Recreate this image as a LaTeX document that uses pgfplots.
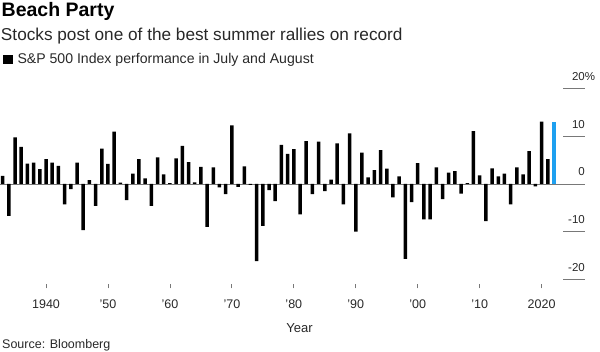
\documentclass[border=0pt]{standalone}
\usepackage{fontspec}
\setmainfont{Liberation Sans}
\usepackage{pgfplots}
\pgfplotsset{compat=1.18}
\definecolor{barblue}{RGB}{30,160,240}
\definecolor{txt}{RGB}{40,40,40}
\definecolor{gridc}{RGB}{120,120,120}
\begin{document}
\begin{tikzpicture}[x=1pt,y=1pt]
\useasboundingbox (0,0) rectangle (600,352);
\begin{axis}[
  at={(0pt,72.7pt)}, anchor=south west,
  scale only axis, width=585pt, height=190.6pt,
  xmin=1932.57, xmax=2027.0, ymin=-20, ymax=20,
  axis line style={draw=none},
  xtick={1940,1950,...,2020},
  xticklabels={1940,'50,'60,'70,'80,'90,'00,'10,2020},
  xtick pos=bottom,
  ytick={-20,-10,0,10,20},
  yticklabels={-20,-10,0,10,20\rlap{\%}},
  ytick pos=right,
  tick align=inside,
  major tick length=4pt,
  xtick style={draw=gridc, line width=0.8pt, yshift=-9.2pt},
  ytick style={draw=none},
  xticklabel style={anchor=base, inner sep=0pt, yshift=-29.7pt, font=\fontsize{12.5}{14}\selectfont, text=txt},
  yticklabel style={anchor=base east, inner sep=0pt, yshift=8pt, font=\fontsize{11.5}{13}\selectfont, text=txt},
  clip=false,
]
\addplot[gridc, line width=0.8pt] coordinates {(1932.57,0) (2027.0,0)};
\pgfplotsinvokeforeach{-20,-10,10,20}{\draw[gridc, line width=0.8pt] (axis cs:2023.45,#1) -- (axis cs:2027.0,#1);}
\addplot[ybar, bar shift=0pt, bar width=3.5pt, fill=black, draw=none] coordinates {
(1933,1.7) (1934,-6.7) (1935,9.8) (1936,7.8) (1937,4.3) (1938,4.5) (1939,3.1)
(1940,5.2) (1941,4.5) (1942,3.8) (1943,-4.3) (1944,-1.1) (1945,4.5) (1946,-9.7)
(1947,0.8) (1948,-4.6) (1949,7.4) (1950,4.2) (1951,11.0) (1952,0.3) (1953,-3.4)
(1954,2.2) (1955,5.2) (1956,1.2) (1957,-4.6) (1958,5.6) (1959,2.0) (1960,0.2)
(1961,5.4) (1962,8.0) (1963,4.6) (1964,0.35) (1965,3.6) (1966,-9.0) (1967,3.5)
(1968,-0.7) (1969,-2.1) (1970,12.3) (1971,-0.6) (1972,3.7) (1973,-0.2) (1974,-16.2)
(1975,-8.8) (1976,-1.3) (1977,-3.6) (1978,8.2) (1979,6.3) (1980,7.3) (1981,-6.4)
(1982,9.0) (1983,-2.1) (1984,8.9) (1985,-1.5) (1986,0.9) (1987,8.5) (1988,-4.3)
(1989,10.6) (1990,-10.0) (1991,6.6) (1992,1.4) (1993,2.9) (1994,7.1) (1995,3.2)
(1996,-2.8) (1997,1.6) (1998,-15.7) (1999,-3.8) (2000,4.4) (2001,-7.4) (2002,-7.4)
(2003,3.5) (2004,-3.2) (2005,2.4) (2006,2.7) (2007,-2.0) (2008,0.2) (2009,11.1)
(2010,1.8) (2011,-7.8) (2012,3.3) (2013,1.6) (2014,2.2) (2015,-4.3) (2016,3.5)
(2017,2.0) (2018,6.9) (2019,-0.5) (2020,13.1) (2021,5.2)
};
\addplot[ybar, bar shift=0pt, bar width=3.5pt, fill=barblue, draw=none] coordinates {(2022,13.1)};
\end{axis}
\node[anchor=base west, inner sep=0pt, font=\bfseries\fontsize{19.5}{21}\selectfont] at (1.5,335.3) {Beach Party};
\node[anchor=base west, inner sep=0pt, text=txt, font=\fontsize{17.2}{20}\selectfont] at (0.8,311.3) {Stocks post one of the best summer rallies on record};
\fill[black] (3.3,288) rectangle (13,296.5);
\node[anchor=base west, inner sep=0pt, text=txt, font=\fontsize{14.1}{16}\selectfont] at (17.3,288.7) {S\&P 500 Index performance in July and August};
\node[anchor=base, inner sep=0pt, text=txt, font=\fontsize{13}{15}\selectfont] at (299.6,19.6) {Year};
\node[anchor=base west, inner sep=0pt, text=txt, font=\fontsize{12.5}{14}\selectfont] at (2,3.5) {Source: Bloomberg};
\end{tikzpicture}
\end{document}
